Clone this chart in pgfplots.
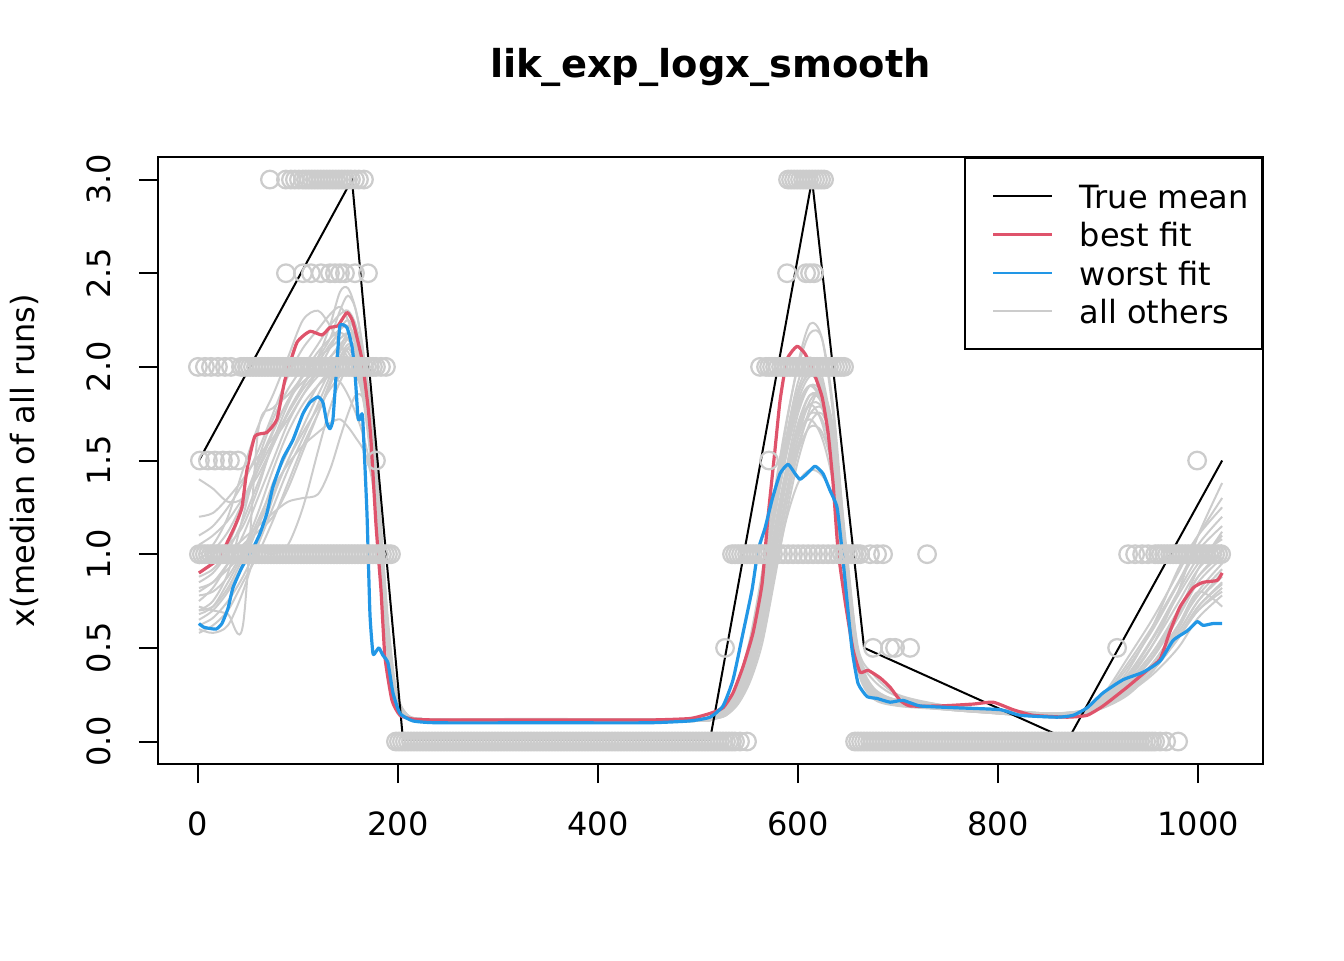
\documentclass[border=0pt]{standalone}
\usepackage{fontspec}
\setmainfont{DejaVu Sans}
\usepackage{pgfplots}
\usepackage{pgfplotstable}
\pgfplotsset{compat=1.18}
\definecolor{rred}{HTML}{DF536B}
\definecolor{rblue}{HTML}{2297E6}
\definecolor{rgray}{HTML}{CCCCCC}

\pgfplotstableread{
x g1 g2 g3 g4 g5 g6 g7 g8 g9 g10 g11 g12 g13 g14 g15 g16 g17 g18 g19 g20 g21 g22
1 0.75 0.95 0.65 1.10 0.60 1.40 0.85 0.70 0.80 1.00 0.72 0.90 0.68 1.05 0.78 0.62 0.88 0.70 1.20 0.58 0.98 0.82
15 0.82 1.00 0.70 1.15 0.58 1.35 0.90 0.75 0.85 1.05 0.70 0.95 0.72 1.10 0.80 0.66 0.92 0.72 1.22 0.62 1.02 0.85
30 0.95 1.05 0.80 1.25 0.62 1.28 1.00 0.90 0.92 1.20 0.68 1.05 0.85 1.18 0.88 0.75 1.02 0.82 1.30 0.70 1.12 0.95
45 1.10 1.15 0.95 1.38 0.80 1.30 1.08 1.20 1.00 1.45 0.62 1.25 1.00 1.30 1.02 0.88 1.18 0.98 1.40 0.85 1.28 1.05
60 1.30 1.35 1.15 1.55 1.05 1.45 1.15 1.50 1.02 1.68 1.65 1.45 1.18 1.42 1.22 1.05 1.38 1.15 1.52 1.00 1.48 1.12
75 1.50 1.60 1.38 1.75 1.30 1.60 1.22 1.72 1.00 1.85 1.78 1.65 1.35 1.58 1.45 1.25 1.58 1.32 1.62 1.18 1.66 1.20
90 1.70 1.80 1.55 1.95 1.50 1.72 1.28 1.88 1.05 2.05 1.85 1.82 1.48 1.75 1.65 1.45 1.76 1.50 1.75 1.38 1.82 1.35
105 1.85 1.95 1.75 2.10 1.65 1.85 1.30 2.00 1.25 2.25 1.95 1.92 1.58 1.90 1.80 1.62 1.90 1.68 1.88 1.58 1.96 1.55
120 1.98 2.05 1.90 2.20 1.78 1.95 1.32 2.12 1.55 2.30 2.05 1.98 1.65 2.05 1.90 1.80 2.02 1.85 1.98 1.75 2.08 1.75
132 2.10 2.15 1.98 2.28 1.88 2.00 1.45 2.22 1.78 2.22 2.10 2.05 1.70 2.22 1.95 1.95 2.12 1.98 2.05 1.90 2.15 1.92
142 2.20 2.30 2.05 2.32 1.95 2.05 1.62 2.28 1.92 2.12 2.15 2.12 1.72 2.40 1.92 2.08 2.18 2.10 2.10 2.02 2.20 2.05
150 2.25 2.38 2.10 2.25 1.98 2.05 1.75 2.30 2.00 2.05 2.18 2.15 1.68 2.42 1.85 2.15 2.15 2.18 2.08 2.10 2.22 2.12
158 2.18 2.30 2.02 2.10 1.95 1.98 1.85 2.22 2.05 1.98 2.12 2.08 1.62 2.30 1.75 2.15 2.05 2.15 1.98 2.12 2.15 2.10
166 2.00 2.05 1.85 1.85 1.85 1.80 1.82 2.02 1.95 1.82 1.95 1.90 1.55 2.05 1.62 2.00 1.88 2.02 1.82 2.02 1.98 1.95
174 1.60 1.55 1.50 1.45 1.60 1.45 1.55 1.65 1.70 1.50 1.55 1.52 1.40 1.62 1.42 1.70 1.52 1.72 1.48 1.75 1.60 1.65
182 1.05 0.95 1.00 0.95 1.15 0.98 1.05 1.10 1.20 1.00 1.02 1.00 1.05 1.05 1.05 1.20 1.00 1.18 0.98 1.22 1.05 1.12
190 0.50 0.45 0.55 0.48 0.60 0.50 0.55 0.55 0.62 0.50 0.52 0.50 0.58 0.52 0.58 0.62 0.50 0.60 0.50 0.65 0.52 0.58
198 0.22 0.20 0.25 0.22 0.26 0.23 0.24 0.24 0.27 0.22 0.23 0.22 0.26 0.23 0.25 0.27 0.22 0.26 0.22 0.28 0.23 0.25
208 0.13 0.13 0.14 0.13 0.14 0.14 0.14 0.13 0.15 0.13 0.13 0.13 0.14 0.13 0.14 0.15 0.13 0.14 0.13 0.15 0.13 0.14
225 0.11 0.11 0.12 0.11 0.12 0.11 0.12 0.11 0.12 0.11 0.11 0.11 0.12 0.11 0.12 0.12 0.11 0.12 0.11 0.12 0.11 0.12
300 0.11 0.12 0.11 0.115 0.11 0.12 0.11 0.11 0.105 0.115 0.11 0.12 0.11 0.115 0.11 0.11 0.11 0.115 0.11 0.12 0.11 0.115
400 0.11 0.115 0.105 0.11 0.11 0.12 0.11 0.11 0.105 0.115 0.11 0.115 0.11 0.11 0.11 0.11 0.11 0.11 0.11 0.115 0.11 0.11
500 0.11 0.12 0.11 0.115 0.11 0.12 0.11 0.115 0.11 0.12 0.11 0.12 0.11 0.115 0.11 0.11 0.115 0.11 0.115 0.12 0.11 0.115
515 0.13 0.14 0.12 0.13 0.12 0.14 0.13 0.13 0.12 0.14 0.12 0.14 0.12 0.13 0.13 0.12 0.13 0.12 0.13 0.14 0.13 0.13
528 0.16 0.18 0.15 0.17 0.14 0.19 0.16 0.17 0.14 0.18 0.15 0.18 0.15 0.17 0.16 0.15 0.17 0.15 0.16 0.18 0.16 0.16
540 0.25 0.30 0.22 0.28 0.20 0.32 0.26 0.27 0.21 0.29 0.23 0.30 0.23 0.28 0.25 0.22 0.27 0.22 0.25 0.29 0.24 0.25
552 0.42 0.52 0.36 0.48 0.32 0.55 0.44 0.46 0.34 0.50 0.38 0.50 0.37 0.48 0.42 0.36 0.46 0.36 0.42 0.50 0.40 0.42
564 0.72 0.85 0.60 0.80 0.52 0.90 0.75 0.78 0.56 0.82 0.64 0.82 0.58 0.82 0.70 0.60 0.78 0.60 0.70 0.84 0.68 0.70
576 1.08 1.25 0.95 1.20 0.85 1.32 1.12 1.18 0.90 1.22 1.00 1.20 0.88 1.25 1.05 0.95 1.18 0.96 1.05 1.24 1.05 1.06
588 1.45 1.62 1.30 1.58 1.20 1.70 1.45 1.55 1.25 1.58 1.38 1.55 1.18 1.68 1.40 1.32 1.52 1.30 1.38 1.60 1.40 1.42
600 1.75 1.92 1.55 1.88 1.50 2.00 1.65 1.82 1.55 1.85 1.68 1.80 1.38 2.02 1.68 1.62 1.78 1.58 1.62 1.86 1.66 1.70
612 1.90 2.05 1.68 2.00 1.70 2.18 1.72 1.95 1.78 1.98 1.85 1.90 1.45 2.23 1.80 1.82 1.90 1.75 1.75 1.96 1.80 1.85
624 1.85 1.95 1.65 1.88 1.75 2.15 1.62 1.90 1.88 1.92 1.82 1.80 1.42 2.15 1.70 1.85 1.82 1.78 1.72 1.86 1.78 1.80
636 1.52 1.58 1.42 1.50 1.55 1.75 1.35 1.55 1.65 1.58 1.50 1.48 1.28 1.70 1.40 1.60 1.50 1.58 1.48 1.52 1.50 1.50
648 0.90 0.92 0.88 0.85 1.00 1.00 0.82 0.90 1.05 0.92 0.90 0.88 0.82 0.95 0.85 1.00 0.88 1.02 0.90 0.88 0.90 0.92
660 0.42 0.40 0.42 0.38 0.48 0.44 0.38 0.40 0.50 0.42 0.42 0.40 0.42 0.42 0.40 0.46 0.40 0.48 0.42 0.40 0.42 0.44
675 0.26 0.24 0.27 0.23 0.33 0.26 0.24 0.25 0.36 0.25 0.26 0.25 0.27 0.25 0.25 0.28 0.25 0.29 0.26 0.25 0.26 0.27
700 0.21 0.20 0.22 0.19 0.24 0.21 0.20 0.20 0.25 0.20 0.21 0.20 0.22 0.20 0.21 0.22 0.20 0.22 0.21 0.20 0.21 0.21
750 0.18 0.18 0.19 0.17 0.19 0.18 0.18 0.17 0.19 0.18 0.18 0.18 0.19 0.17 0.18 0.19 0.18 0.19 0.18 0.17 0.18 0.18
800 0.16 0.16 0.16 0.15 0.17 0.16 0.15 0.15 0.17 0.16 0.16 0.16 0.16 0.15 0.16 0.17 0.16 0.16 0.16 0.15 0.16 0.16
850 0.14 0.14 0.14 0.13 0.15 0.14 0.13 0.14 0.15 0.14 0.14 0.14 0.14 0.13 0.14 0.15 0.14 0.15 0.14 0.13 0.14 0.14
880 0.15 0.15 0.15 0.14 0.16 0.15 0.14 0.15 0.16 0.15 0.15 0.15 0.15 0.14 0.15 0.16 0.15 0.16 0.15 0.14 0.15 0.15
905 0.22 0.20 0.18 0.22 0.20 0.19 0.25 0.21 0.19 0.20 0.20 0.24 0.19 0.18 0.21 0.20 0.21 0.19 0.23 0.20 0.19 0.22
930 0.35 0.28 0.25 0.38 0.28 0.26 0.45 0.32 0.26 0.30 0.30 0.42 0.27 0.26 0.33 0.29 0.34 0.27 0.40 0.31 0.28 0.36
955 0.55 0.40 0.38 0.62 0.42 0.38 0.66 0.48 0.36 0.46 0.45 0.62 0.40 0.38 0.52 0.42 0.52 0.40 0.60 0.48 0.42 0.56
980 0.78 0.58 0.55 0.92 0.60 0.55 0.90 0.68 0.50 0.68 0.66 0.85 0.58 0.56 0.80 0.62 0.74 0.56 0.84 0.70 0.62 0.80
1000 0.95 0.75 0.72 1.10 0.80 0.70 1.10 0.88 0.66 0.92 0.85 1.05 0.75 0.72 1.10 0.80 0.92 0.70 1.02 0.88 0.78 0.98
1024 1.10 0.88 0.85 1.25 0.95 0.80 1.30 1.02 0.78 1.12 0.98 1.20 0.90 0.84 1.38 0.72 1.05 0.82 1.15 1.00 0.92 1.08
}\graytab

\begin{document}
\begin{tikzpicture}
\path[use as bounding box] (-59.25pt,-73.5pt) rectangle (444.75pt,286.5pt);
\begin{axis}[
  width=414.4pt, height=227.6pt, scale only axis,
  xmin=-39.92, xmax=1064.92, ymin=-0.12, ymax=3.12,
  xtick={0,200,400,600,800,1000},
  ytick={0,0.5,1,1.5,2,2.5,3},
  tick align=outside, major tick length=7.2pt,
  xtick pos=lower, ytick pos=left,
  axis line style={line width=0.75pt},
  every tick/.style={black, line width=0.75pt},
  tick label style={font=\fontsize{12}{14.4}\selectfont},
  /pgf/number format/assume math mode=true,
  xticklabel style={/pgf/number format/1000 sep={}, anchor=north, inner sep=0pt, yshift=-10.4pt},
  yticklabel style={/pgf/number format/fixed, /pgf/number format/fixed zerofill, /pgf/number format/precision=1, xshift=-10.4pt, rotate=90, anchor=south, inner sep=0pt},
  title={lik\_exp\_logx\_smooth},
  title style={at={(axis description cs:0.5,1.1055)}, anchor=base, inner sep=0pt, font=\bfseries\fontsize{14.4}{17.28}\selectfont},
  ylabel={x(median of all runs)},
  ylabel style={at={(axis description cs:-0.1122,0.5)}, anchor=base, inner sep=0pt, font=\fontsize{12}{14.4}\selectfont},
  legend style={at={(rel axis cs:1,1)}, anchor=north east, draw=black, line width=0.75pt, fill=white,
    inner xsep=5pt, inner ysep=7.05pt, font=\fontsize{12}{14.4}\selectfont,
    nodes={inner sep=0pt, text height=11.8pt, text depth=2.6pt}, row sep=0pt, column sep=0pt},
  legend cell align=left,
  legend image code/.code={\path[draw=none] (-5.5pt,0pt) -- (32.5pt,0pt); \draw[#1] (0pt,0pt) -- (22pt,0pt);},
]
% observations (circles)
\addplot[only marks, mark=o, mark size=3.3pt, rgray, mark options={line width=0.85pt}, forget plot] coordinates {
(72,3)(88,3)(93,3)(97,3)(101,3)(105,3)(108,3)(111,3)(114,3)(117,3)(120,3)(123,3)(126,3)(129,3)(132,3)(135,3)(138,3)(141,3)(144,3)(147,3)(150,3)(153,3)(157,3)(161,3)(166,3)
(88,2.5)(105,2.5)(113,2.5)(123,2.5)(132,2.5)(137,2.5)(142,2.5)(147,2.5)(157,2.5)(170,2.5)
(0,2)(7,2)(13,2)(20,2)(27,2)(33,2)(43,2)(46,2)(49,2)(52,2)(55,2)(58,2)(61,2)(64,2)(67,2)(70,2)(73,2)(76,2)(79,2)(82,2)(85,2)(88,2)(91,2)(94,2)(97,2)(100,2)(103,2)(106,2)(109,2)(112,2)(115,2)(118,2)(121,2)(124,2)(127,2)(130,2)(133,2)(136,2)(139,2)(142,2)(145,2)(148,2)(151,2)(154,2)(157,2)(160,2)(163,2)(166,2)(169,2)(172,2)(175,2)(178,2)(183,2)(188,2)
(2,1.5)(10,1.5)(17,1.5)(25,1.5)(32,1.5)(40,1.5)(178,1.5)
(1,1)(4,1)(7,1)(10,1)(13,1)(16,1)(19,1)(22,1)(25,1)(28,1)(31,1)(34,1)(37,1)(40,1)(43,1)(46,1)(49,1)(52,1)(55,1)(58,1)(61,1)(64,1)(67,1)(70,1)(73,1)(76,1)(79,1)(82,1)(85,1)(88,1)(91,1)(94,1)(97,1)(100,1)(103,1)(106,1)(109,1)(112,1)(115,1)(118,1)(121,1)(124,1)(127,1)(130,1)(133,1)(136,1)(139,1)(142,1)(145,1)(148,1)(151,1)(154,1)(157,1)(160,1)(163,1)(166,1)(169,1)(172,1)(175,1)(178,1)(181,1)(184,1)(187,1)(190,1)(193,1)
(198,0)(201,0)(204,0)(207,0)(210,0)(213,0)(216,0)(219,0)(222,0)(225,0)(228,0)(231,0)(234,0)(237,0)(240,0)(243,0)(246,0)(249,0)(252,0)(255,0)(258,0)(261,0)(264,0)(267,0)(270,0)(273,0)(276,0)(279,0)(282,0)(285,0)(288,0)(291,0)(294,0)(297,0)(300,0)(303,0)(306,0)(309,0)(312,0)(315,0)(318,0)(321,0)(324,0)(327,0)(330,0)(333,0)(336,0)(339,0)(342,0)(345,0)(348,0)(351,0)(354,0)(357,0)(360,0)(363,0)(366,0)(369,0)(372,0)(375,0)(378,0)(381,0)(384,0)(387,0)(390,0)(393,0)(396,0)(399,0)(402,0)(405,0)(408,0)(411,0)(414,0)(417,0)(420,0)(423,0)(426,0)(429,0)(432,0)(435,0)(438,0)(441,0)(444,0)(447,0)(450,0)(453,0)(456,0)(459,0)(462,0)(465,0)(468,0)(471,0)(474,0)(477,0)(480,0)(483,0)(486,0)(489,0)(492,0)(495,0)(498,0)(501,0)(504,0)(507,0)(510,0)(513,0)(516,0)(519,0)(522,0)(525,0)(528,0)(531,0)(534,0)(537,0)(542,0)(549,0)
(527,0.5)(675,0.5)(692,0.5)(697,0.5)(712,0.5)(919,0.5)
(534,1)(537,1)(540,1)(543,1)(546,1)(549,1)(552,1)(555,1)(558,1)(561,1)(564,1)(567,1)(570,1)(575,1)(580,1)(585,1)(590,1)(595,1)(600,1)(605,1)(610,1)(615,1)(620,1)(625,1)(630,1)(635,1)(640,1)(644,1)(647,1)(650,1)(653,1)(656,1)(659,1)(662,1)(672,1)(679,1)(685,1)(729,1)
(571,1.5)
(562,2)(568,2)(571,2)(574,2)(577,2)(580,2)(583,2)(586,2)(589,2)(592,2)(595,2)(598,2)(601,2)(604,2)(607,2)(610,2)(613,2)(616,2)(619,2)(622,2)(625,2)(628,2)(631,2)(634,2)(637,2)(640,2)(643,2)(646,2)
(589,2.5)(608,2.5)(612,2.5)(616,2.5)
(590,3)(593,3)(596,3)(599,3)(602,3)(605,3)(608,3)(611,3)(614,3)(617,3)(620,3)(623,3)(626,3)
(657,0)(660,0)(663,0)(666,0)(669,0)(672,0)(675,0)(678,0)(681,0)(684,0)(687,0)(690,0)(693,0)(696,0)(699,0)(702,0)(705,0)(708,0)(711,0)(714,0)(717,0)(720,0)(723,0)(726,0)(729,0)(732,0)(735,0)(738,0)(741,0)(744,0)(747,0)(750,0)(753,0)(756,0)(759,0)(762,0)(765,0)(768,0)(771,0)(774,0)(777,0)(780,0)(783,0)(786,0)(789,0)(792,0)(795,0)(798,0)(801,0)(804,0)(807,0)(810,0)(813,0)(816,0)(819,0)(822,0)(825,0)(828,0)(831,0)(834,0)(837,0)(840,0)(843,0)(846,0)(849,0)(852,0)(855,0)(858,0)(861,0)(864,0)(867,0)(870,0)(873,0)(876,0)(879,0)(882,0)(885,0)(888,0)(891,0)(894,0)(897,0)(900,0)(903,0)(906,0)(909,0)(912,0)(915,0)(918,0)(921,0)(924,0)(927,0)(930,0)(933,0)(936,0)(939,0)(942,0)(945,0)(948,0)(951,0)(954,0)(957,0)(962,0)(968,0)(980,0)
(930,1)(937,1)(944,1)(950,1)(957,1)(960,1)(963,1)(966,1)(969,1)(972,1)(975,1)(978,1)(981,1)(984,1)(987,1)(990,1)(993,1)(996,1)(999,1)(1002,1)(1005,1)(1008,1)(1011,1)(1014,1)(1017,1)(1020,1)(1023,1)
(999,1.5)
};
% all other fits
\pgfplotsinvokeforeach{1,...,22}{
  \addplot[rgray, line width=0.75pt, smooth, tension=0.5, forget plot] table[x=x, y=g#1] {\graytab};
}
% true mean
\addplot[black, line width=0.75pt, forget plot] coordinates {(1,1.5)(154,3)(205,0.01)(512,0.01)(614,3)(666,0.5)(870,0.01)(1024,1.5)};
% best fit
\addplot[rred, line width=1.2pt, smooth, tension=0.3, line join=round, forget plot] coordinates {
(1,0.90)(12,0.94)(22,0.98)(29,1.06)(37,1.15)(44,1.25)(49,1.45)(57,1.63)(69,1.65)(79,1.72)(87,1.93)(99,2.13)(112,2.19)(124,2.17)(132,2.21)(140,2.22)(149,2.29)(155,2.24)(164,2.04)(170,1.79)(173,1.61)(178,1.16)(183,0.81)(187,0.45)(194,0.22)(202,0.14)(215,0.12)(240,0.115)(350,0.115)(450,0.115)(492,0.123)(512,0.15)(525,0.18)(535,0.26)(545,0.40)(555,0.58)(564,0.84)(570,1.20)(577,1.56)(582,1.82)(589,2.04)(599,2.11)(607,2.07)(615,1.98)(624,1.84)(630,1.65)(635,1.38)(640,1.02)(647,0.75)(655,0.49)(662,0.37)(670,0.38)(682,0.34)(692,0.29)(702,0.22)(712,0.19)(742,0.19)(775,0.20)(795,0.21)(815,0.17)(835,0.14)(869,0.13)(889,0.14)(905,0.19)(929,0.29)(949,0.38)(962,0.44)(972,0.59)(982,0.72)(995,0.82)(1005,0.85)(1019,0.86)(1024,0.90)
};
% worst fit
\addplot[rblue, line width=1.2pt, smooth, tension=0.3, line join=round, forget plot] coordinates {
(1,0.63)(6,0.61)(18,0.60)(24,0.63)(30,0.71)(35,0.82)(44,0.93)(54,1.02)(62,1.11)(69,1.22)(75,1.36)(85,1.51)(95,1.61)(105,1.75)(112,1.81)(120,1.84)(125,1.81)(129,1.70)(132,1.67)(135,1.72)(139,2.02)(142,2.22)(149,2.21)(154,2.11)(157,1.97)(160,1.73)(162,1.72)(164,1.75)(165,1.70)(169,1.22)(172,0.68)(175,0.47)(178,0.48)(181,0.50)(185,0.46)(190,0.42)(195,0.26)(202,0.15)(215,0.11)(240,0.10)(350,0.10)(450,0.10)(492,0.11)(512,0.13)(525,0.19)(535,0.33)(545,0.58)(554,0.81)(560,1.02)(567,1.14)(574,1.29)(582,1.43)(590,1.48)(597,1.43)(602,1.40)(609,1.43)(617,1.47)(625,1.43)(632,1.34)(639,1.25)(644,1.02)(649,0.75)(654,0.49)(660,0.31)(669,0.24)(679,0.23)(692,0.21)(705,0.22)(722,0.19)(759,0.18)(802,0.17)(822,0.14)(859,0.13)(875,0.14)(889,0.18)(905,0.26)(925,0.33)(945,0.37)(962,0.43)(975,0.54)(989,0.59)(999,0.64)(1005,0.62)(1015,0.63)(1024,0.63)
};
\addlegendimage{black, line width=0.75pt}
\addlegendentry{True mean}
\addlegendimage{rred, line width=0.9pt}
\addlegendentry{best fit}
\addlegendimage{rblue, line width=0.9pt}
\addlegendentry{worst fit}
\addlegendimage{rgray, line width=0.75pt}
\addlegendentry{all others}
\end{axis}
\end{tikzpicture}
\end{document}
